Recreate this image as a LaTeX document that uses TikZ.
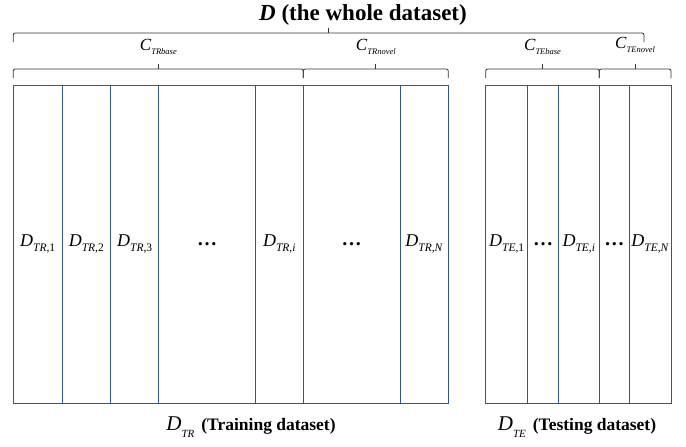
\documentclass[tikz,border=0pt]{standalone}
\usepackage{fontspec}
\setmainfont{Liberation Serif}
\usetikzlibrary{positioning,calc}
\definecolor{colblue}{RGB}{47,85,151}
\newcommand{\dlab}[1]{\textit{D}\raisebox{-0.5ex}{\fontsize{11.5}{12}\selectfont #1}}
\newcommand{\clab}[1]{\textit{C}\raisebox{-0.6ex}{\fontsize{8.5}{9}\selectfont\textit{#1}}}
% curly brace between two coordinates: ends #3 below the bar, tip above it
\newcommand{\hbrace}[3]{\draw[brl] (#1) -- ++(0,-#3) -- ($(#1)!.5!(#2)+(0,-#3)$) -- ($(#2)+(0,-#3)$) -- (#2);
  \draw[brl, sharp corners] ($(#1)!.5!(#2)+(0,-#3)$) -- ++(0,-5);}

\begin{document}
\begin{tikzpicture}[x=1pt, y=-1pt, node distance=0pt,
    col/.style = {draw=colblue, line width=0.8pt, minimum height=318pt, inner sep=0pt, outer sep=0pt, font=\fontsize{18}{20}\selectfont},
    dotcol/.style = {col, font=\fontsize{20}{20}\selectfont\bfseries},
    brl/.style = {draw=black!80, line width=0.8pt, rounded corners=2pt},
    clabel/.style = {font=\fontsize{17}{18}\selectfont}]
  \useasboundingbox (0,0) rectangle (686,447);

  % training columns
  \node[col, minimum width=48.7pt] (tr1) at (37.65,244) {\dlab{\textit{TR},1}};
  \node[col, minimum width=48.7pt, right=of tr1] (tr2) {\dlab{\textit{TR},2}};
  \node[col, minimum width=48pt, right=of tr2] (tr3) {\dlab{\textit{TR},3}};
  \node[dotcol, minimum width=96.6pt, right=of tr3] (trd1) {\ldots};
  \node[col, minimum width=48pt, right=of trd1] (tri) {\dlab{\textit{TR},\textit{i}}};
  \node[dotcol, minimum width=96.7pt, right=of tri] (trd2) {\ldots};
  \node[col, minimum width=48.3pt, right=of trd2] (trn) {\dlab{\textit{TR},\textit{N}}};

  % testing columns
  \node[col, minimum width=42pt] (te1) at (506.7,244) {\dlab{\textit{TE},1}};
  \node[dotcol, minimum width=30.6pt, right=of te1] (ted1) {\ldots};
  \node[col, minimum width=41pt, right=of ted1] (tei) {\dlab{\textit{TE},\textit{i}}};
  \node[dotcol, minimum width=30pt, right=of tei] (ted2) {\ldots};
  \node[col, minimum width=41.7pt, right=of ted2] (ten) {\dlab{\textit{TE},\textit{N}}};

  % brace end points
  \coordinate (wa) at ([yshift=43pt]tr1.north west);
  \coordinate (wb) at (644,42);
  \coordinate (ba) at ([yshift=7pt]tr1.north west);
  \coordinate (bb) at ([yshift=7pt]tri.north east);
  \coordinate (bc) at ([yshift=7pt]trn.north east);
  \coordinate (bd) at ([yshift=7pt]te1.north west);
  \coordinate (be) at ([yshift=7pt]tei.north east);
  \coordinate (bf) at ([yshift=7pt]ten.north east);

  \hbrace{wa}{wb}{9}
  \hbrace{ba}{bb}{9}
  \hbrace{bb}{bc}{9}
  \hbrace{bd}{be}{9}
  \hbrace{be}{bf}{9}

  \node[font=\fontsize{23}{24}\selectfont\bfseries] (title) at (363,15) {\textit{D} (the whole dataset)};
  \node[clabel] (ctrb) at ($(ba)!.5!(bb)+(0,-31)$) {\clab{TRbase}};
  \node[clabel] (ctrn) at ($(bb)!.5!(bc)+(0,-31)$) {\clab{TRnovel}};
  \node[clabel] (cteb) at ($(bd)!.5!(be)+(0,-31)$) {\clab{TEbase}};
  \node[clabel] (cten) at ($(be)!.5!(bf)+(0,-33)$) {\clab{TEnovel}};

  % bottom labels
  \node (trlab) at (251,427) {{\fontsize{21}{20}\selectfont\textit{D}\raisebox{-0.7ex}{\fontsize{11}{12}\selectfont\textit{TR}}}\hspace{7pt}{\fontsize{17.5}{18}\selectfont\bfseries (Training dataset)}};
  \node (telab) at (577,427) {{\fontsize{21}{20}\selectfont\textit{D}\raisebox{-0.7ex}{\fontsize{11}{12}\selectfont\textit{TE}}}\hspace{7pt}{\fontsize{17.5}{18}\selectfont\bfseries (Testing dataset)}};
\end{tikzpicture}
\end{document}
